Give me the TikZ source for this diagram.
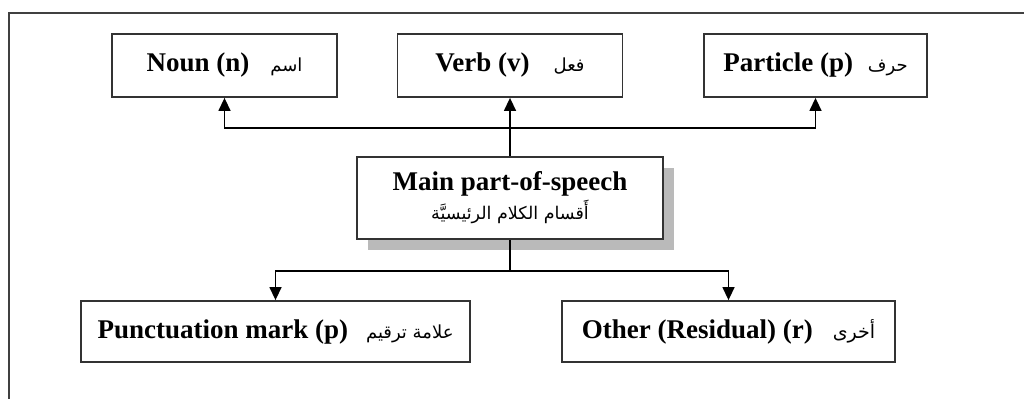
\documentclass[tikz,border=0pt]{standalone}
\usepackage{fontspec}
\setmainfont{Liberation Serif}
\newfontfamily\arabicfont[Script=Arabic]{DejaVu Sans}
\TeXXeTstate=1
\usetikzlibrary{arrows.meta,shadows}

% Arabic label, right to left
\newcommand{\artext}[2][18]{{\arabicfont\mdseries\fontsize{#1}{#1}\selectfont\beginR #2\endR}}

\tikzset{
  posbox/.style={draw=black!80, line width=1.8pt, fill=white, inner sep=0pt,
    font=\bfseries\fontsize{27}{32}\selectfont, align=center},
  link/.style={draw=black, line width=1.4pt},
  tip/.style={-{Triangle[length=13pt,width=12pt]}},
  frame/.style={draw=black!75, line width=1.8pt}
}

\begin{document}
\begin{tikzpicture}[x=1pt,y=-1pt]
  \useasboundingbox (0,0) rectangle (1024,399);

  % outer frame (top and left edges)
  \draw[frame] (1024,13) -- (9,13) -- (9,399);

  % category boxes
  \node[posbox, minimum width=225pt, minimum height=63pt] (noun) at (224.5,65.5)
    {Noun (n)\hspace{21pt}\artext{اسم}};
  \node[posbox, minimum width=225pt, minimum height=63pt] (verb) at (510,65.5)
    {Verb (v)\hspace{24pt}\artext{فعل}};
  \node[posbox, minimum width=223pt, minimum height=63pt] (particle) at (815.5,65.5)
    {Particle (p)\hspace{15pt}\artext{حرف}};

  % root box with drop shadow
  \node[posbox, minimum width=306pt, minimum height=82pt,
        drop shadow={shadow xshift=11pt, shadow yshift=-11pt, fill=black!27, opacity=1}]
    (main) at (510,198)
    {Main part-of-speech\\[-3pt]\artext[17.5]{أَقسام الكلام الرئيسيَّة}};

  \node[posbox, minimum width=389pt, minimum height=61pt] (punct) at (275.5,331.5)
    {Punctuation mark (p)\hspace{18pt}\artext{علامة ترقيم}};
  \node[posbox, minimum width=333pt, minimum height=61pt] (other) at (728.5,331.5)
    {Other (Residual) (r)\hspace{20pt}\artext[19]{أخرى}};

  % connectors
  \coordinate (jt) at (510,128);
  \coordinate (jb) at (510,271);
  \draw[link] (main.north) -- (jt);
  \draw[link,tip] (jt) -| (noun.south);
  \draw[link,tip] (jt) -- (verb.south);
  \draw[link,tip] (jt) -| (particle.south);
  \draw[link] (main.south) -- (jb);
  \draw[link,tip] (jb) -| (punct.north);
  \draw[link,tip] (jb) -| (other.north);
\end{tikzpicture}
\end{document}
